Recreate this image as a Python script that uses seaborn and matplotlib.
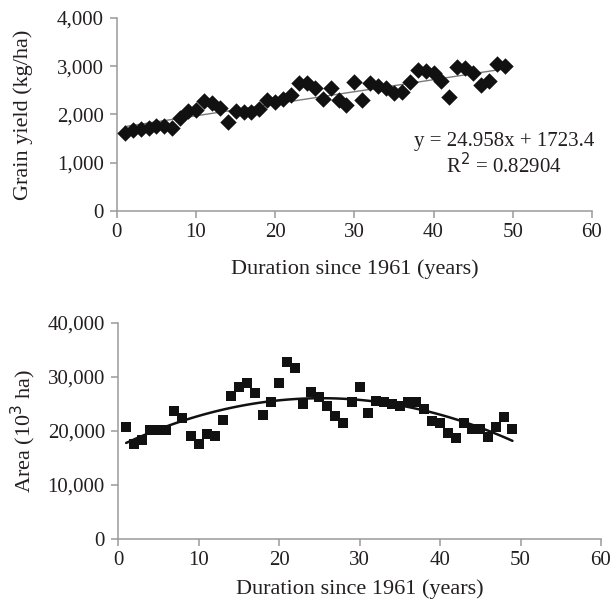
import numpy as np
import pandas as pd
import matplotlib
matplotlib.use("Agg")
import matplotlib.pyplot as plt
import seaborn as sns

years = list(range(1, 50))
grain_yield = [1615, 1684, 1698, 1718, 1766, 1753, 1718, 1924, 2076, 2096,
               2282, 2234, 2144, 1842, 2076, 2062, 2062, 2117, 2302, 2268,
               2323, 2405, 2660, 2646, 2557, 2316, 2557, 2302, 2199, 2667,
               2302, 2660, 2598, 2557, 2440, 2474, 2667, 2921, 2907, 2866,
               2694, 2371, 2990, 2955, 2852, 2612, 2694, 3045, 3010]
area = [20800, 17600, 18340, 20185, 20185, 20185, 23690, 22340, 19080, 17600,
        19385, 19140, 22030, 26520, 28060, 28800, 27080, 22950, 25415, 28920,
        32740, 31690, 24985, 27260, 26340, 24615, 22770, 21540, 25290, 28060,
        23385, 25600, 25415, 24985, 24615, 25415, 25415, 24000, 21910, 21540,
        19690, 18650, 21415, 20310, 20310, 18955, 20800, 22525, 20310]
slope, intercept = 24.958, 1723.4
eq_lines = ["y = 24.958x + 1723.4", "R$^2$ = 0.82904"]
x_ticks = [0, 10, 20, 30, 40, 50, 60]
y1_ticks = [0, 1000, 2000, 3000, 4000]
y2_ticks = [0, 10000, 20000, 30000, 40000]

sns.set_theme(style="white")
plt.rcParams['font.family'] = ['Liberation Serif', 'DejaVu Serif']

df = pd.DataFrame({"year": years, "yield": grain_yield, "area": area})

fig = plt.figure(figsize=(6.12, 6.01), dpi=100)
ax1 = fig.add_axes([0.191, 0.649, 0.776, 0.321])
ax2 = fig.add_axes([0.193, 0.103, 0.789, 0.360])

spine_col = "#9a9a9a"
txt_col = "#231f20"
tick_fs = 15
lab_fs = 16

def style(ax, yt, xpad):
    for s in ["top", "right"]:
        ax.spines[s].set_visible(False)
    for s in ["left", "bottom"]:
        ax.spines[s].set_color(spine_col)
        ax.spines[s].set_linewidth(1.1)
    ax.set_xlim(0, 60)
    ax.set_xticks(x_ticks)
    ax.set_yticks(yt)
    ax.set_ylim(yt[0], yt[-1])
    ax.set_yticklabels([f"{v:,}" for v in yt])
    ax.tick_params(axis="both", direction="out", length=5, width=1.1,
                   color=spine_col, labelsize=tick_fs, labelcolor=txt_col,
                   bottom=True, left=True)
    ax.tick_params(axis="y", pad=4.5)
    ax.tick_params(axis="x", pad=3.5)
    ax.set_xlabel("Duration since 1961 (years)", fontsize=lab_fs, color=txt_col, labelpad=xpad)

# top: grain yield
xs = np.array([min(years), max(years)])
sns.lineplot(x=xs, y=slope * xs + intercept, ax=ax1, color="#7a7a7a", linewidth=1.0)
sns.scatterplot(data=df, x="year", y="yield", ax=ax1, marker="D", s=70,
                color="#111111", edgecolor="#111111", linewidth=0, zorder=3)
style(ax1, y1_ticks, 12.5)
ax1.set_ylabel("Grain yield (kg/ha)", fontsize=lab_fs, color=txt_col)
ax1.yaxis.set_label_coords(-0.177, 0.5)
ax1.text(48.9, 1430, eq_lines[0], fontsize=15, ha="center", va="center", color=txt_col)
ax1.text(48.9, 950, eq_lines[1], fontsize=15, ha="center", va="center", color=txt_col)

# bottom: area with 2nd-order polynomial trend
sns.regplot(data=df, x="year", y="area", ax=ax2, order=2, ci=None, scatter=False,
            line_kws={"color": "#111111", "linewidth": 1.8})
sns.scatterplot(data=df, x="year", y="area", ax=ax2, marker="s", s=60,
                color="#111111", edgecolor="#111111", linewidth=0, zorder=3)
style(ax2, y2_ticks, 7)
ax2.set_ylabel("Area (10$^3$ ha)", fontsize=lab_fs, color=txt_col)
ax2.yaxis.set_label_coords(-0.165, 0.5)

fig.savefig("out.png", dpi=100)
